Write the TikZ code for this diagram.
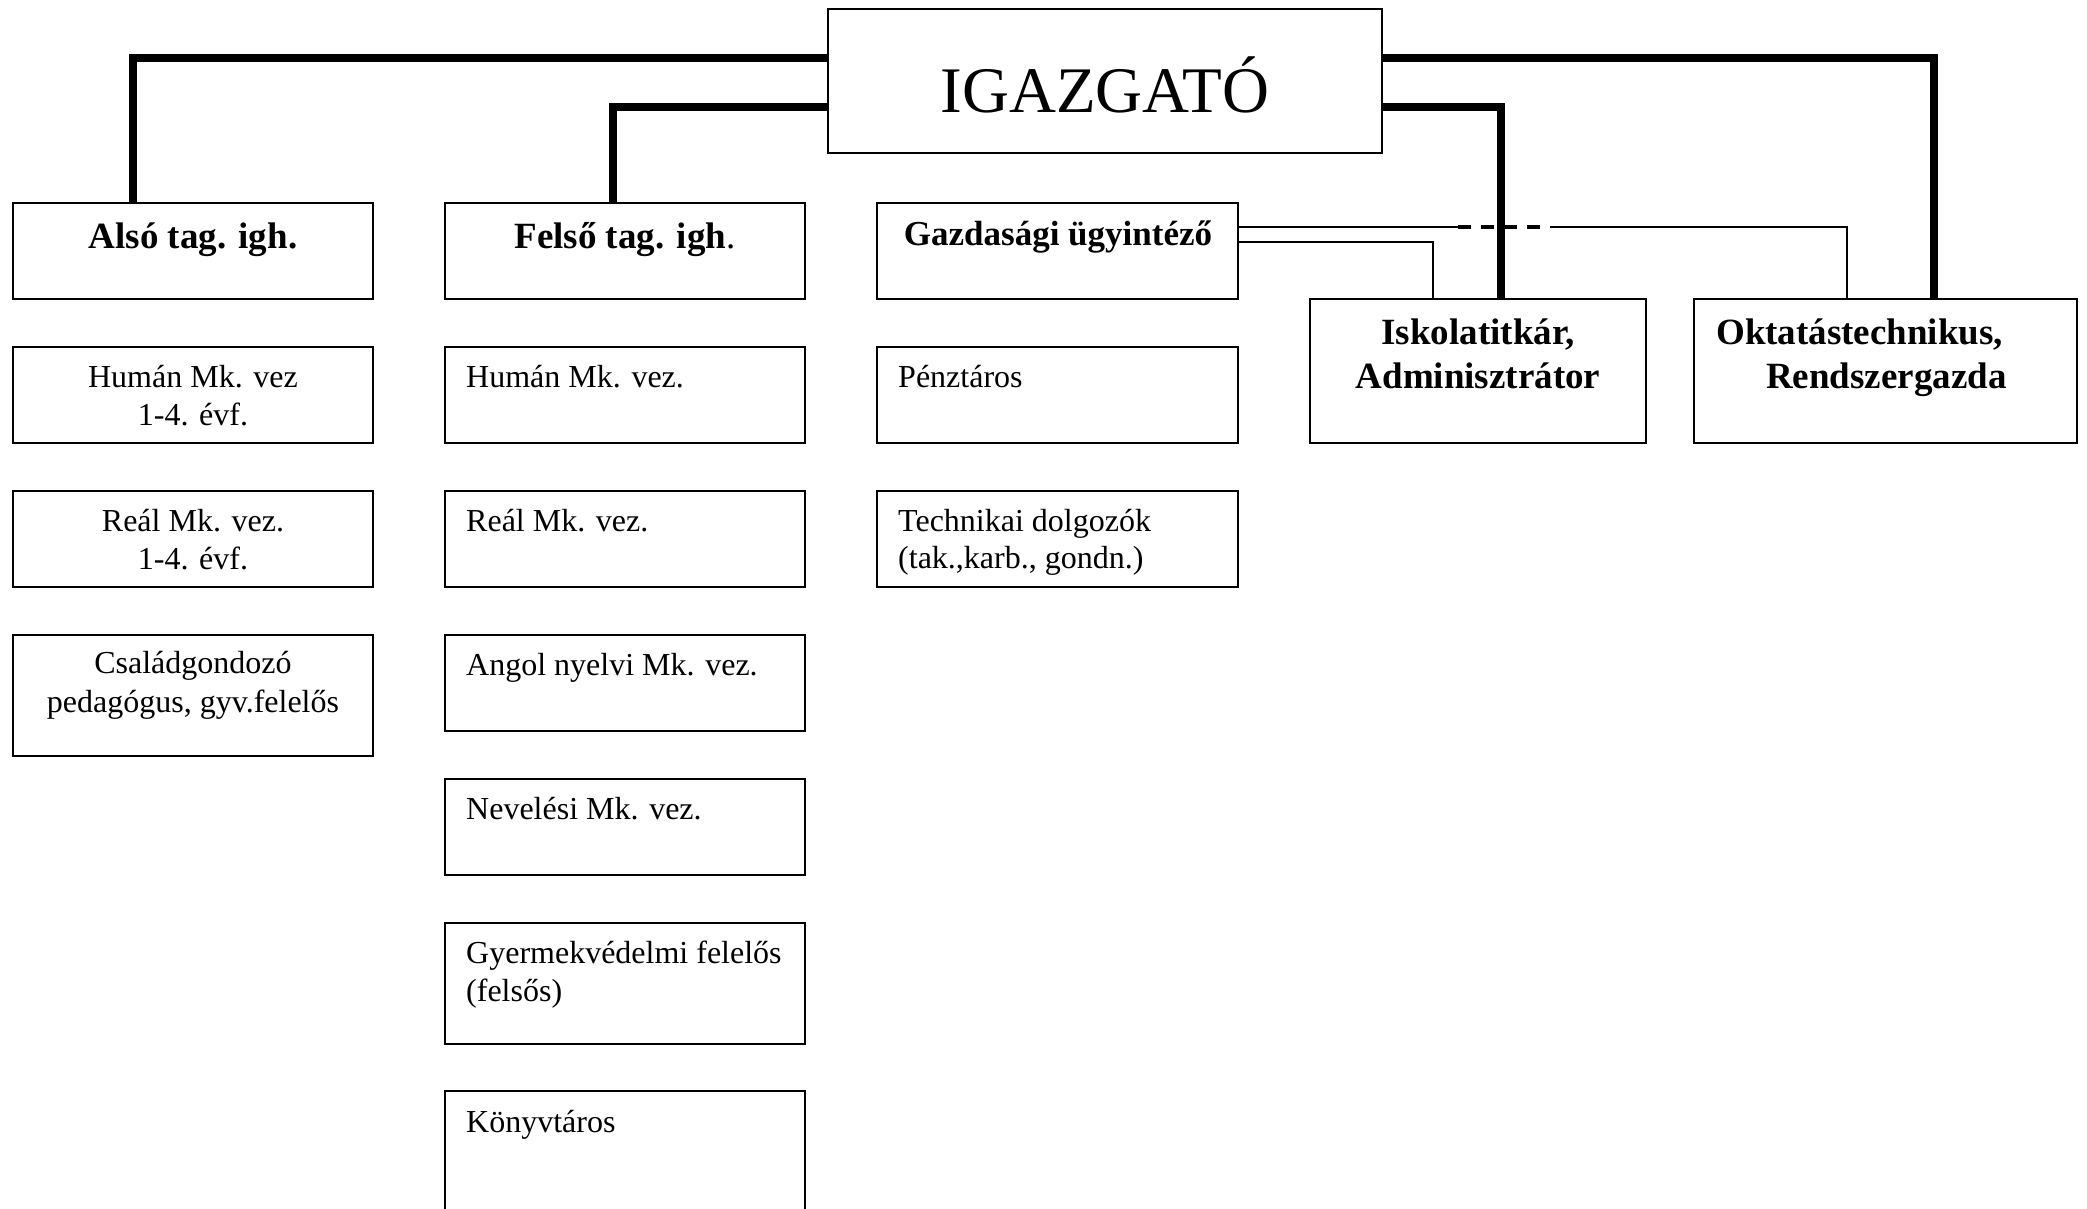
\documentclass[tikz,border=0pt]{standalone}
\usepackage{fontspec}
\setmainfont{Liberation Serif}
\usetikzlibrary{calc}
\tikzset{
  box/.style={draw=black, line width=2pt, inner sep=0pt, outer sep=0pt, anchor=north west},
  reg/.style={inner sep=0pt, font=\fontsize{32}{38}\selectfont},
  bld/.style={inner sep=0pt, font=\fontsize{37}{37}\selectfont\bfseries},
  thickline/.style={line width=8pt, black},
  thinline/.style={line width=2pt, black},
  dashline/.style={line width=3.5pt, black, dash pattern=on 13pt off 10pt}
}
\begin{document}
\begin{tikzpicture}[x=1pt, y=-1pt]
\path[use as bounding box, clip] (0,0) rectangle (2087,1208);
\fill[white] (0,0) rectangle (2087,1208);

% boxes
\node[box, minimum width=554pt, minimum height=144pt] (igaz) at (828,9) {};
\node[box, minimum width=360pt, minimum height=96pt] (also) at (13,203) {};
\node[box, minimum width=360pt, minimum height=96pt] (felso) at (445,203) {};
\node[box, minimum width=361pt, minimum height=96pt] (gazd) at (877,203) {};
\node[box, minimum width=336pt, minimum height=144pt] (isk) at (1310,299) {};
\node[box, minimum width=383pt, minimum height=144pt] (okt) at (1694,299) {};

\node[box, minimum width=360pt, minimum height=96pt] (human1) at (13,347) {};
\node[box, minimum width=360pt, minimum height=96pt] (real1) at (13,491) {};
\node[box, minimum width=360pt, minimum height=121pt] (csalad) at (13,635) {};

\node[box, minimum width=360pt, minimum height=96pt] (human2) at (445,347) {};
\node[box, minimum width=360pt, minimum height=96pt] (real2) at (445,491) {};
\node[box, minimum width=360pt, minimum height=96pt] (angol) at (445,635) {};
\node[box, minimum width=360pt, minimum height=96pt] (nevel) at (445,779) {};
\node[box, minimum width=360pt, minimum height=121pt] (gyerm) at (445,923) {};
\node[box, minimum width=360pt, minimum height=140pt] (konyv) at (445,1091) {};

\node[box, minimum width=361pt, minimum height=96pt] (penz) at (877,347) {};
\node[box, minimum width=361pt, minimum height=96pt] (techn) at (877,491) {};

% texts
\node[inner sep=0pt, font=\fontsize{65}{65}\selectfont, anchor=base] (igaz-t) at (1105,112) {IGAZGATÓ};
\node[bld, anchor=base] (also-t) at (193,248) {Alsó tag. igh.};
\node[bld, anchor=base] (felso-t) at (625,248) {Felső tag. igh\mdseries.};
\node[bld, font=\fontsize{35}{35}\selectfont\bfseries, anchor=base] (gazd-t) at (1058,245) {Gazdasági ügyintéző};
\node[bld, anchor=base] (isk-t1) at (1478,344) {Iskolatitkár,};
\node[bld, anchor=base] (isk-t2) at (1478,388) {Adminisztrátor};
\node[bld, anchor=base west] (okt-t1) at (1716,344) {Oktatástechnikus,};
\node[bld, anchor=base west] (okt-t2) at (1766,388) {Rendszergazda};

\node[reg, anchor=base] (human1-t1) at (193,387) {Humán Mk. vez};
\node[reg, anchor=base] (human1-t2) at (193,425) {1-4. évf.};
\node[reg, anchor=base] (real1-t1) at (193,531) {Reál Mk. vez.};
\node[reg, anchor=base] (real1-t2) at (193,569) {1-4. évf.};
\node[reg, anchor=base] (csalad-t1) at (193,673) {Családgondozó};
\node[reg, anchor=base] (csalad-t2) at (193,712) {pedagógus, gyv.felelős};

\node[reg, anchor=base west] (human2-t) at (466,387) {Humán Mk. vez.};
\node[reg, anchor=base west] (real2-t) at (466,531) {Reál Mk. vez.};
\node[reg, anchor=base west] (angol-t) at (466,675) {Angol nyelvi Mk. vez.};
\node[reg, anchor=base west] (nevel-t) at (466,819) {Nevelési Mk. vez.};
\node[reg, anchor=base west] (gyerm-t1) at (466,963) {Gyermekvédelmi felelős};
\node[reg, anchor=base west] (gyerm-t2) at (466,1001) {(felsős)};
\node[reg, anchor=base west] (konyv-t) at (466,1132) {Könyvtáros};

\node[reg, anchor=base west] (penz-t) at (898,387) {Pénztáros};
\node[reg, anchor=base west] (techn-t1) at (898,531) {Technikai dolgozók};
\node[reg, anchor=base west] (techn-t2) at (898,568) {(tak.,karb., gondn.)};

% thin connectors from Gazdasági ügyintéző
\coordinate (g1) at ($(gazd.north east)+(0,24)$);
\coordinate (d1) at ($(g1)+(220,0)$);
\coordinate (d2) at ($(g1)+(312,0)$);
\draw[thinline] (g1) -- (d1);
\draw[dashline] (d1) -- (d2);
\draw[thinline] (d2) -| ($(okt.north west)+(153,0)$);
\draw[thinline] ($(gazd.north east)+(0,39)$) -| ($(isk.north west)+(123,0)$);

% thick connectors from IGAZGATÓ
\draw[thickline] ($(igaz.north west)+(0,49)$) -| ($(also.north west)+(120,0)$);
\draw[thickline] ($(igaz.north west)+(0,98)$) -| ($(felso.north west)+(168,0)$);
\draw[thickline] ($(igaz.north east)+(0,49)$) -| ($(okt.north west)+(240,0)$);
\draw[thickline] ($(igaz.north east)+(0,98)$) -| ($(isk.north west)+(191,0)$);
\end{tikzpicture}
\end{document}
